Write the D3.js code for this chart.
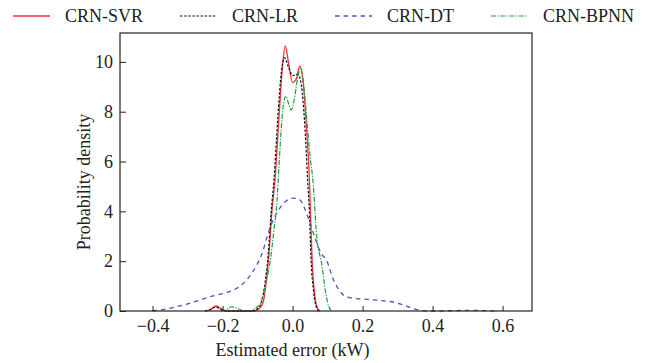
<!DOCTYPE html>
<html lang="en">

<head>
    <meta charset="UTF-8">
    <script src="https://d3js.org/d3.v7.min.js"></script>
    <style>
        body { margin: 0; background: #fff; }
    </style>
</head>

<body>
    <div id="chart"></div>
    <script>
        // Data: [estimated error (kW), density]
        const seriesNames = ["CRN-SVR", "CRN-LR", "CRN-DT", "CRN-BPNN"];

        const svrPoints = [
            [-0.25, 0], [-0.236, 0.05], [-0.218, 0.2], [-0.203, 0.08], [-0.19, 0],
            [-0.11, 0], [-0.095, 0.1], [-0.084, 0.35], [-0.075, 1.2], [-0.068, 2.2],
            [-0.059, 4], [-0.05, 5.3], [-0.04, 7.5], [-0.03, 9.6], [-0.021, 10.64],
            [-0.012, 10.0], [0.0, 9.17], [0.01, 9.3], [0.021, 9.84], [0.03, 9.2],
            [0.04, 7.3], [0.048, 5.3], [0.051, 4], [0.056, 2], [0.062, 0.8],
            [0.07, 0.15], [0.078, 0]
        ];

        const lrPoints = [
            [-0.25, 0], [-0.236, 0.05], [-0.22, 0.16], [-0.205, 0.07], [-0.19, 0],
            [-0.115, 0], [-0.1, 0.1], [-0.088, 0.4], [-0.078, 1.2], [-0.07, 2.2],
            [-0.061, 4], [-0.053, 5.3], [-0.042, 7.8], [-0.032, 9.6], [-0.023, 10.17],
            [-0.012, 9.8], [0.0, 9.45], [0.012, 9.5], [0.02, 9.4], [0.03, 8.4],
            [0.038, 6.7], [0.043, 5.26], [0.048, 4], [0.053, 2], [0.06, 0.8],
            [0.068, 0.15], [0.076, 0]
        ];

        const dtPoints = [
            [-0.40, 0], [-0.379, 0.04], [-0.345, 0.13], [-0.312, 0.24], [-0.27, 0.42],
            [-0.236, 0.57], [-0.2, 0.7], [-0.169, 0.84], [-0.15, 1.0], [-0.131, 1.25],
            [-0.115, 1.55], [-0.102, 1.85], [-0.085, 2.4], [-0.074, 2.92], [-0.06, 3.5],
            [-0.04, 4.05], [-0.02, 4.4], [0.002, 4.53], [0.021, 4.46], [0.035, 4.1],
            [0.05, 3.52], [0.065, 2.9], [0.079, 2.38], [0.098, 2.0], [0.117, 1.25],
            [0.13, 0.9], [0.145, 0.64], [0.16, 0.55], [0.174, 0.51], [0.22, 0.46],
            [0.26, 0.41], [0.29, 0.35], [0.317, 0.24], [0.345, 0.1], [0.374, 0.01],
            [0.4, 0], [0.45, 0.01], [0.5, 0.025], [0.55, 0.015], [0.58, 0]
        ];

        const bpnnPoints = [
            [-0.205, 0], [-0.19, 0.05], [-0.174, 0.17], [-0.155, 0.09], [-0.138, 0],
            [-0.12, 0.02], [-0.105, 0.12], [-0.092, 0.3], [-0.08, 0.9], [-0.064, 2.0],
            [-0.052, 3.4], [-0.045, 4.3], [-0.04, 5.5], [-0.033, 7.2], [-0.026, 8.3],
            [-0.019, 8.63], [-0.011, 8.3], [-0.004, 8.07], [0.005, 8.5], [0.015, 9.4],
            [0.023, 9.75], [0.03, 9.3], [0.04, 7.8], [0.05, 6.2], [0.058, 5.26],
            [0.069, 3.0], [0.083, 1.9], [0.095, 0.7], [0.103, 0.2], [0.112, 0]
        ];

        const xTicks = [-0.4, -0.2, 0.0, 0.2, 0.4, 0.6];
        const yTicks = [0, 2, 4, 6, 8, 10];

        const series = [
            { name: seriesNames[0], points: svrPoints, color: "#f0313c", dash: null, width: 1.3 },
            { name: seriesNames[1], points: lrPoints, color: "#111", dash: "2.5,1.6", width: 1.2 },
            { name: seriesNames[2], points: dtPoints, color: "#4558bd", dash: "4.5,4", width: 1.3 },
            { name: seriesNames[3], points: bpnnPoints, color: "#1f9e3f", dash: "5,1.5,1.2,1.5", width: 1.2 }
        ];

        const FONT = '"Liberation Serif", "Times New Roman", Times, serif';

        // Chart dimensions
        const width = 649;
        const height = 363;
        const margin = { top: 33, right: 117, bottom: 52, left: 120 };
        const innerWidth = width - margin.left - margin.right;
        const innerHeight = height - margin.top - margin.bottom;

        const svg = d3.select("#chart")
            .append("svg")
            .attr("width", width)
            .attr("height", height)
            .style("font-family", FONT);

        const g = svg.append("g")
            .attr("transform", `translate(${margin.left},${margin.top})`);

        // Scales
        const x = d3.scaleLinear().domain([-0.493, 0.684]).range([0, innerWidth]);
        const y = d3.scaleLinear().domain([0, 11.16]).range([innerHeight, 0]);

        // Curves
        const line = d3.line()
            .x(d => x(d[0]))
            .y(d => y(d[1]))
            .curve(d3.curveMonotoneX);

        g.selectAll(".curve")
            .data(series)
            .join("path")
            .attr("class", "curve")
            .attr("fill", "none")
            .attr("stroke", d => d.color)
            .attr("stroke-width", d => d.width)
            .attr("stroke-dasharray", d => d.dash)
            .attr("d", d => line(d.points));

        // Axes (ticks point inward)
        const fmt = d3.format(".1f");
        const styleAxis = a => {
            a.attr("font-family", FONT).attr("font-size", 18);
            a.select(".domain").remove();
            a.selectAll("line").attr("stroke", "#222");
            a.selectAll("text").attr("fill", "#222").style("font-family", FONT).style("font-size", "18px");
        };

        g.append("g")
            .attr("transform", `translate(0,${innerHeight})`)
            .call(d3.axisBottom(x).tickValues(xTicks).tickFormat(fmt).tickSize(-5).tickPadding(8))
            .call(styleAxis);

        g.append("g")
            .call(d3.axisLeft(y).tickValues(yTicks).tickSize(-6).tickPadding(7))
            .call(styleAxis);

        // Frame
        g.append("rect")
            .attr("width", innerWidth)
            .attr("height", innerHeight)
            .attr("fill", "none")
            .attr("stroke", "#222")
            .attr("stroke-width", 1.2);

        // Axis labels
        svg.append("text")
            .attr("x", margin.left + x(0.0))
            .attr("y", 356)
            .attr("text-anchor", "middle")
            .attr("fill", "#222")
            .style("font-family", FONT)
            .style("font-size", "18px")
            .text("Estimated error (kW)");

        svg.append("text")
            .attr("transform", `translate(90,${margin.top + innerHeight / 2 + 10}) rotate(-90)`)
            .attr("text-anchor", "middle")
            .attr("fill", "#222")
            .style("font-family", FONT)
            .style("font-size", "18px")
            .text("Probability density");

        // Legend
        const legend = svg.append("g").attr("transform", "translate(13,16)");
        let lx = 0;
        series.forEach(s => {
            legend.append("line")
                .attr("x1", lx).attr("x2", lx + 37)
                .attr("y1", 0).attr("y2", 0)
                .attr("stroke", s.color)
                .attr("stroke-width", s.width)
                .attr("stroke-dasharray", s.dash);
            const t = legend.append("text")
                .attr("x", lx + 52)
                .attr("y", 6)
                .attr("fill", "#222")
                .style("font-family", FONT)
                .style("font-size", "18px")
                .text(s.name);
            lx += 52 + t.node().getComputedTextLength() + 37;
        });
    </script>
</body>

</html>
